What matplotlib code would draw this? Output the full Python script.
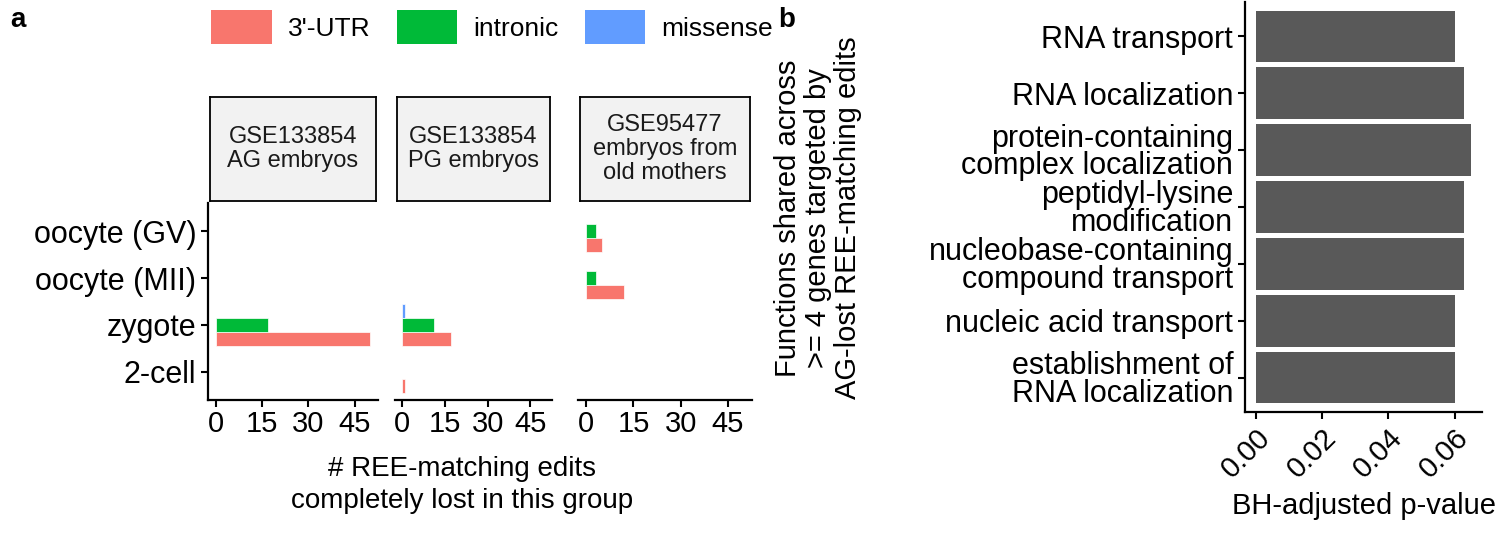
import matplotlib
matplotlib.use("Agg")
import matplotlib.pyplot as plt
from matplotlib.patches import Patch
import numpy as np

plt.rcParams['font.family'] = ['Liberation Sans', 'DejaVu Sans']

stages = ["oocyte (GV)", "oocyte (MII)", "zygote", "2-cell"]
groups = ["GSE133854\nAG embryos", "GSE133854\nPG embryos", "GSE95477\nembryos from\nold mothers"]
types = ["3'-UTR", "intronic", "missense"]
colors = {"3'-UTR": "#F8766D", "intronic": "#00BA38", "missense": "#619CFF"}
# counts[group] per stage
utr = [[0, 0, 50, 0], [0, 0, 17, 1], [5, 12, 0, 0]]
intronic = [[0, 0, 17, 0], [0, 0, 11, 0], [3, 3, 0, 0]]
missense = [[0, 0, 0, 0], [0, 0, 1, 0], [0, 0, 0, 0]]

functions = ["RNA transport", "RNA localization", "protein-containing\ncomplex localization",
             "peptidyl-lysine\nmodification", "nucleobase-containing\ncompound transport",
             "nucleic acid transport", "establishment of\nRNA localization"]
pvals = [0.060, 0.063, 0.065, 0.063, 0.063, 0.060, 0.060]

W, H = 1497, 535
fig = plt.figure(figsize=(W/100, H/100), dpi=100)

def ax_px(x0, y0, x1, y1):
    return fig.add_axes([x0/W, 1-y1/H, (x1-x0)/W, (y1-y0)/H])

facets = [(208, 378), (395, 552), (578, 752)]
ytop, ybot = 203, 400
ypos = np.arange(len(stages))[::-1].astype(float)
bw = 0.3
for gi, (x0, x1) in enumerate(facets):
    ax = ax_px(x0, ytop, x1, ybot)
    for ti, (t, data) in enumerate(zip(types, [utr, intronic, missense])):
        off = (ti - 1) * bw
        vals = np.array(data[gi])
        m = vals > 0
        ax.barh(ypos[m] + off, vals[m], height=bw, color=colors[t], edgecolor='white', linewidth=0.5)
    ax.set_xlim(-2.6, 52.6)
    ax.set_ylim(-0.6, 3.6)
    ax.set_xticks([0, 15, 30, 45])
    ax.tick_params(axis='x', labelsize=21, width=1.5, length=5, pad=2)
    for s in ['top', 'right']:
        ax.spines[s].set_visible(False)
    ax.spines['bottom'].set_linewidth(1.6)
    if gi == 0:
        ax.set_yticks(ypos)
        ax.set_yticklabels(stages, fontsize=22)
        ax.spines['left'].set_linewidth(1.6)
        ax.tick_params(axis='y', width=1.5, length=5)
    else:
        ax.spines['left'].set_visible(False)
        ax.set_yticks([])
    sax = ax_px(x0 + 2, 97, x1 - 2, 201)
    sax.set_facecolor('#F2F2F2')
    sax.set_xticks([]); sax.set_yticks([])
    for s in sax.spines.values():
        s.set_linewidth(1.3)
    sax.text(0.5, 0.5, groups[gi], ha='center', va='center', fontsize=17, color='#1A1A1A',
             transform=sax.transAxes, linespacing=1.1)

fig.text(462/W, 1-485/H, "# REE-matching edits\ncompletely lost in this group", ha='center', va='center',
         fontsize=20, linespacing=1.25)
fig.text(10/W, 1-20/H, "a", fontsize=20, fontweight='bold', va='center')
fig.text(778/W, 1-20/H, "b", fontsize=20, fontweight='bold', va='center')

handles = [Patch(facecolor=colors[t], label=t) for t in types]
fig.legend(handles=handles, loc='center', bbox_to_anchor=(492/W, 1-27/H), ncol=3, frameon=False,
           fontsize=19, handlelength=2.3, handleheight=1.6, columnspacing=1.0, handletextpad=0.6)

bx = ax_px(1245, 2, 1482, 412)
yb = np.arange(len(functions))[::-1]
bx.barh(yb, pvals, height=0.9, color='#595959')
bx.set_xlim(-0.0033, 0.0683)
bx.set_ylim(-0.6, 6.6)
bx.set_yticks(yb)
bx.set_yticklabels(functions, fontsize=22, linespacing=0.9)
bx.set_xticks([0, 0.02, 0.04, 0.06])
bx.set_xticklabels(["0.00", "0.02", "0.04", "0.06"], rotation=45, ha='right', rotation_mode='anchor')
bx.tick_params(axis='x', labelsize=21, width=1.5, length=5)
bx.tick_params(axis='y', width=1.5, length=5)
for s in ['top', 'right']:
    bx.spines[s].set_visible(False)
for s in ['left', 'bottom']:
    bx.spines[s].set_linewidth(1.6)
bx.set_xlabel("BH-adjusted p-value", fontsize=21, labelpad=6)
fig.text(818/W, 1-218/H, "Functions shared across\n>= 4 genes targeted by\nAG-lost REE-matching edits",
         rotation=90, ha='center', va='center', fontsize=21, linespacing=1.1)

fig.savefig("out.png", dpi=100)
